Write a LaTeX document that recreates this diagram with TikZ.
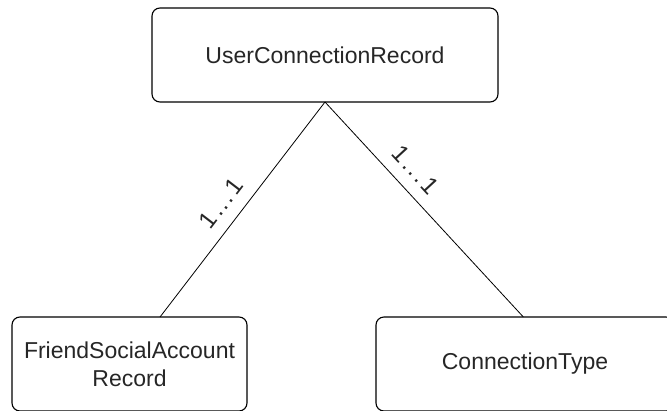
\documentclass[tikz,border=0pt]{standalone}
\usepackage{fontspec}
\setmainfont{Liberation Sans}
\newcommand{\onetoone}{1\hspace{3pt}.\hspace{2pt}.\hspace{2pt}.\hspace{3pt}1}
\begin{document}
\begin{tikzpicture}[x=1pt,y=1pt]
      \tikzset{entity/.style={draw, rounded corners=8pt, line width=1.1pt, outer sep=0pt, inner sep=0pt, align=center, text=black!85, font=\fontsize{23}{28}\selectfont}}
      \tikzset{mult/.style={sloped, anchor=south, inner xsep=0pt, inner ysep=12pt, text=black!85, font=\fontsize{24}{28}\selectfont}}
      \useasboundingbox (0,0) rectangle (667,-410);
%% Entities
      	\node[entity, minimum width=346pt, minimum height=94pt] (ucr) at (325,-55) {UserConnectionRecord};
      	\node[entity, minimum width=235pt, minimum height=94pt] (fsar) at (129.5,-364) {FriendSocialAccount\\Record};
      	\node[entity, minimum width=298pt, minimum height=94pt] (ct) at (525,-364) {ConnectionType};
%Relations
		\draw[line width=0.8pt] (fsar.57.9) -- node[mult, pos=0.47] {\onetoone} (ucr.south);
		\draw[line width=0.8pt] (ucr.south) -- node[mult, pos=0.38] {\onetoone} (ct.92.4);
	\end{tikzpicture}
\end{document}
